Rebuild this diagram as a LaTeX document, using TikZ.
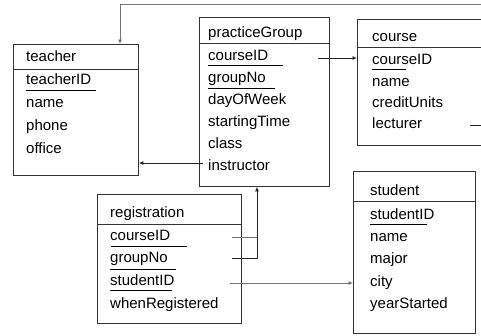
\documentclass[tikz,border=0pt]{standalone}
\usepackage{fontspec}
\setmainfont{Liberation Sans}
\usetikzlibrary{arrows.meta}
\begin{document}
\begin{tikzpicture}[x=1pt,y=-1pt,
  box/.style={draw=black!80, line width=0.8pt, inner sep=0pt, anchor=north west},
  txt/.style={anchor=base west, inner sep=0pt, font=\fontsize{15}{18}\selectfont, text=black},
  ul/.style={line width=0.8pt, black},
  hline/.style={line width=0.8pt, black!80},
  conn/.style={line width=0.8pt, black!85},
  gconn/.style={line width=0.8pt, black!55},
  arr/.style={-{Latex[length=4.5pt,width=4pt]}}]
\useasboundingbox (0,0) rectangle (481,335);
% boxes
\node[box, minimum width=125pt, minimum height=131pt] (teacher) at (13,44) {};
\node[box, minimum width=130pt, minimum height=169pt] (pg) at (199,17) {};
\node[box, minimum width=143pt, minimum height=126pt] (course) at (357,19) {};
\node[box, minimum width=122pt, minimum height=162pt] (student) at (353,171) {};
\node[box, minimum width=144pt, minimum height=129pt] (reg) at (97,194) {};
% header lines
\draw[hline] (teacher.west |- 0,69) -- (teacher.east |- 0,69);
\draw[hline] (pg.west |- 0,43) -- (pg.east |- 0,43);
\draw[hline] (course.west |- 0,47) -- (course.east |- 0,47);
\draw[hline] (student.west |- 0,201) -- (student.east |- 0,201);
\draw[hline] (reg.west |- 0,224) -- (reg.east |- 0,224);
% teacher
\node[txt] (t0) at (26,61.5) {teacher};
\node[txt] (t1) at (26,84) {teacherID};
\node[txt] (t2) at (26,107) {name};
\node[txt] (t3) at (26,130) {phone};
\node[txt] (t4) at (26,153) {office};
\draw[ul] (26,90) -- (96,90);
% practiceGroup
\node[txt] (p0) at (208,37) {practiceGroup};
\node[txt] (p1) at (208,60) {courseID};
\node[txt] (p2) at (208,82) {groupNo};
\node[txt] (p3) at (208,104) {dayOfWeek};
\node[txt] (p4) at (208,126) {startingTime};
\node[txt] (p5) at (208,148) {class};
\node[txt] (p6) at (208,170) {instructor};
\draw[ul] (208,65) -- (283,65);
\draw[ul] (208,88) -- (275,88);
% course
\node[txt] (c0) at (372,41.5) {course};
\node[txt] (c1) at (372,64) {courseID};
\node[txt] (c2) at (372,86) {name};
\node[txt] (c3) at (372,107) {creditUnits};
\node[txt] (c4) at (372,128.5) {lecturer};
\draw[ul] (372,69) -- (406,69);
% student
\node[txt] (s0) at (370,195) {student};
\node[txt] (s1) at (370,219) {studentID};
\node[txt] (s2) at (370,241.5) {name};
\node[txt] (s3) at (370,263.5) {major};
\node[txt] (s4) at (370,286) {city};
\node[txt] (s5) at (370,308) {yearStarted};
\draw[ul] (370,224) -- (427,224);
% registration
\node[txt] (r0) at (110,217) {registration};
\node[txt] (r1) at (110,240) {courseID};
\node[txt] (r2) at (110,262.5) {groupNo};
\node[txt] (r3) at (110,285.5) {studentID};
\node[txt] (r4) at (110,308) {whenRegistered};
\draw[ul] (111,246) -- (187,246);
\draw[ul] (110,269) -- (176,269);
\draw[ul] (110,290) -- (172,290);
% connectors
\coordinate (instrS) at (203,163);
\draw[conn,arr] (instrS) -- (instrS -| teacher.east);
\coordinate (pgc) at (318,58);
\draw[conn,arr] (pgc) -- (pgc -| course.west);
\coordinate (rg) at (232,258);
\coordinate (jn) at (257,258);
\draw[conn,arr] (rg) -- (jn) -- (jn |- pg.south);
\coordinate (rc) at (232,237);
\coordinate (rcj) at (257,237);
\draw[gconn] (rc) -- (rcj);
\coordinate (rs) at (230,283);
\draw[gconn,arr] (rs) -- (rs -| student.west);
\coordinate (lec) at (470,125);
\coordinate (lecR) at (495,125);
\coordinate (topR) at (495,4);
\coordinate (topL) at (120,4);
\draw[conn] (lec) -- (lecR) -- (topR);
\draw[gconn,arr] (topR) -- (topL) -- (topL |- teacher.north);
\end{tikzpicture}
\end{document}
